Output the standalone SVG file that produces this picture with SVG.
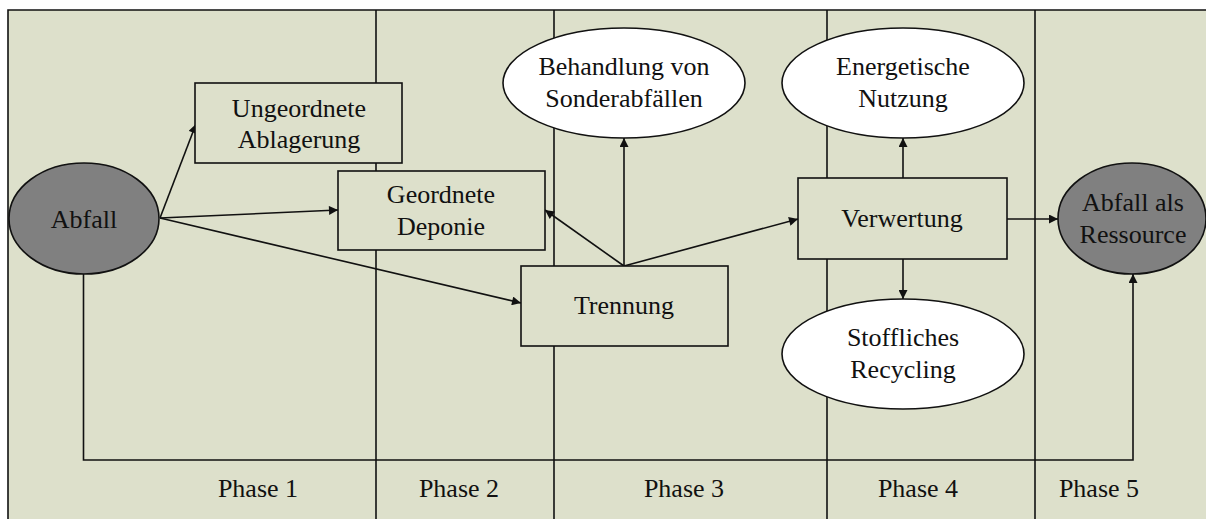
<svg xmlns="http://www.w3.org/2000/svg" width="1206" height="519" viewBox="0 0 1206 519">
  <style>
    .bg { fill: #dde0cb; stroke: none; }
    .frame { fill: none; stroke: #111; stroke-width: 1.6; }
    .lane { stroke: #111; stroke-width: 1.6; fill: none; }
    .box { fill: #dde0cb; stroke: #111; stroke-width: 1.6; }
    .dark { fill: #808080; stroke: #111; stroke-width: 1.6; }
    .light { fill: #ffffff; stroke: #111; stroke-width: 1.6; }
    .edge { fill: none; stroke: #111; stroke-width: 1.6; }
    .lbl { font-size: 26px; fill: #111; text-anchor: middle; }
  </style>
  <defs>
    <marker id="arrow" viewBox="0 0 10 10" refX="10" refY="5" markerWidth="10" markerHeight="9" markerUnits="userSpaceOnUse" orient="auto">
      <path d="M0,0 L10,5 L0,10 Z" fill="#111"/>
    </marker>
  </defs>

  <!-- swimlane background -->
  <g id="lanes">
    <rect class="bg" x="8" y="10" width="1198" height="509"/>
    <path class="frame" d="M8,519 L8,10 L1206,10"/>
    <line class="lane" x1="376" y1="10" x2="376" y2="519"/>
    <line class="lane" x1="554" y1="10" x2="554" y2="519"/>
    <line class="lane" x1="827" y1="10" x2="827" y2="519" stroke-width="2.4"/>
    <line class="lane" x1="1035" y1="10" x2="1035" y2="519"/>
  </g>

  <g id="phase-labels" font-family="Liberation Serif, DejaVu Serif, serif">
    <text class="lbl" x="258" y="497">Phase 1</text>
    <text class="lbl" x="459" y="497">Phase 2</text>
    <text class="lbl" x="684" y="497">Phase 3</text>
    <text class="lbl" x="918" y="497">Phase 4</text>
    <text class="lbl" x="1099" y="497">Phase 5</text>
  </g>

  <!-- connectors -->
  <g id="connectors">
    <line class="edge" x1="160" y1="218" x2="196" y2="124" marker-end="url(#arrow)"/>
    <line class="edge" x1="160" y1="218" x2="338" y2="210" marker-end="url(#arrow)"/>
    <line class="edge" x1="160" y1="218" x2="521" y2="303" marker-end="url(#arrow)"/>
    <line class="edge" x1="624" y1="266" x2="624" y2="138" marker-end="url(#arrow)"/>
    <line class="edge" x1="624" y1="266" x2="545" y2="210" marker-end="url(#arrow)"/>
    <line class="edge" x1="624" y1="266" x2="798" y2="219" marker-end="url(#arrow)"/>
    <line class="edge" x1="903" y1="178" x2="903" y2="138" marker-end="url(#arrow)"/>
    <line class="edge" x1="903" y1="259" x2="903" y2="299" marker-end="url(#arrow)"/>
    <line class="edge" x1="1007" y1="219" x2="1058" y2="219" marker-end="url(#arrow)"/>
    <path class="edge" d="M83.5,274 L83.5,460 L1133,460 L1133,274" marker-end="url(#arrow)"/>
  </g>

  <g id="nodes" font-family="Liberation Serif, DejaVu Serif, serif">
    <g id="abfall">
      <ellipse class="dark" cx="84" cy="218.5" rx="75" ry="55.5"/>
      <text class="lbl" x="84" y="228">Abfall</text>
    </g>

    <g id="ungeordnete-ablagerung">
      <rect class="box" x="195" y="83" width="207" height="80"/>
      <text class="lbl" x="299" y="117">Ungeordnete</text>
      <text class="lbl" x="299" y="148">Ablagerung</text>
    </g>

    <g id="geordnete-deponie">
      <rect class="box" x="338" y="171" width="207" height="79"/>
      <text class="lbl" x="441" y="203">Geordnete</text>
      <text class="lbl" x="441" y="235">Deponie</text>
    </g>

    <g id="trennung">
      <rect class="box" x="521" y="266" width="207" height="80"/>
      <text class="lbl" x="624" y="314">Trennung</text>
    </g>

    <g id="sonderabfaelle">
      <ellipse class="light" cx="624" cy="83" rx="121" ry="55"/>
      <text class="lbl" x="624" y="75">Behandlung von</text>
      <text class="lbl" x="624" y="107">Sonderabfällen</text>
    </g>

    <g id="verwertung">
      <rect class="box" x="798" y="178" width="209" height="81"/>
      <text class="lbl" x="902" y="227">Verwertung</text>
    </g>

    <g id="energetische-nutzung">
      <ellipse class="light" cx="903" cy="83" rx="121" ry="55"/>
      <text class="lbl" x="903" y="75">Energetische</text>
      <text class="lbl" x="903" y="107">Nutzung</text>
    </g>

    <g id="stoffliches-recycling">
      <ellipse class="light" cx="903" cy="354" rx="121" ry="55"/>
      <text class="lbl" x="903" y="346">Stoffliches</text>
      <text class="lbl" x="903" y="378">Recycling</text>
    </g>

    <g id="abfall-als-ressource">
      <ellipse class="dark" cx="1132" cy="218.5" rx="74" ry="55.5"/>
      <text class="lbl" x="1133" y="211">Abfall als</text>
      <text class="lbl" x="1133" y="243">Ressource</text>
    </g>
  </g>
</svg>
